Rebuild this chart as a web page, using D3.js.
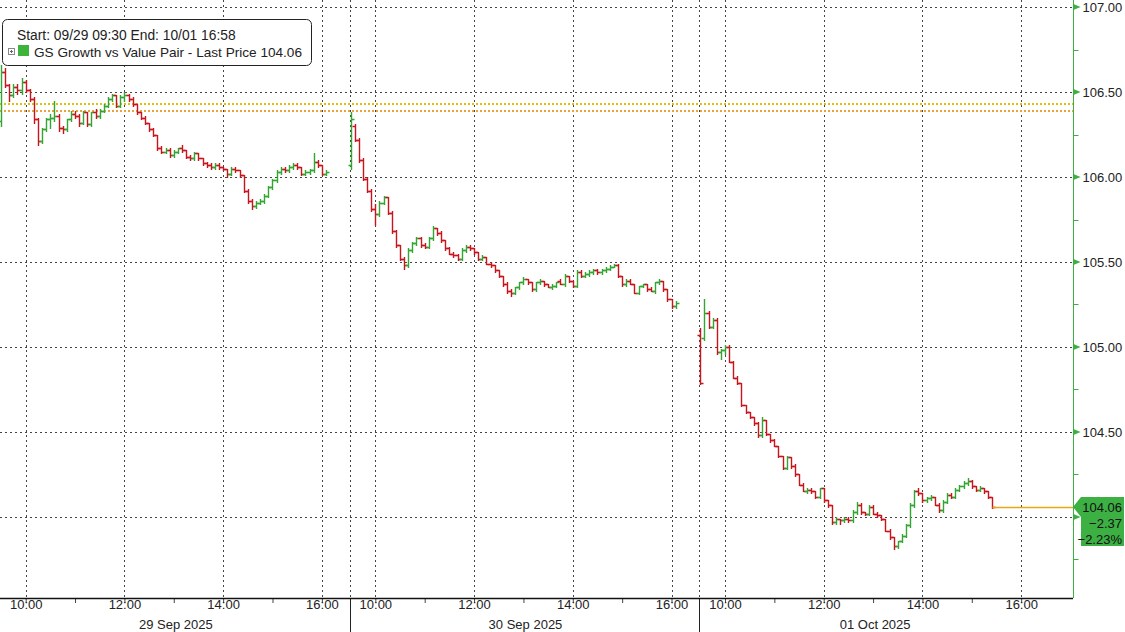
<!DOCTYPE html>
<html>
<head>
<meta charset="utf-8">
<script src="https://cdn.jsdelivr.net/npm/d3@7"></script>
<style>
  body { margin: 0; background: #fff; }
  svg text { font-family: "Liberation Sans", Arial, sans-serif; }
</style>
</head>
<body>
<svg width="1125" height="632"></svg>
<script>
// ---- data ----
var dayLabels  = ["29 Sep 2025", "30 Sep 2025", "01 Oct 2025"];
var hourTicks  = [10, 11, 12, 13, 14, 15, 16];
var priceTicks = [104.00, 104.50, 105.00, 105.50, 106.00, 106.50, 107.00];
var minorTicks = [103.75, 104.25, 104.75, 105.25, 105.75, 106.25, 106.75];
var refLines   = [106.43, 106.39];          // prev close, open (dotted yellow)
var legendTitle = "Start: 09/29 09:30 End: 10/01 16:58";
var seriesName  = "GS Growth vs Value Pair - Last Price 104.06";
var lastPrice = 104.06, netChange = -2.37, pctChange = -2.23;

// 5 minute bars, [open, high, low, close]
var day1 = [
  [106.33,106.66,106.30,106.62],[106.62,106.64,106.53,106.54],[106.54,106.55,106.45,106.48],[106.48,106.55,106.47,106.53],
  [106.53,106.55,106.49,106.51],[106.51,106.58,106.49,106.56],[106.56,106.57,106.50,106.51],[106.51,106.52,106.45,106.46],
  [106.46,106.47,106.32,106.34],[106.34,106.35,106.19,106.21],[106.21,106.29,106.20,106.28],[106.28,106.35,106.27,106.34],
  [106.34,106.37,106.29,106.35],[106.35,106.45,106.33,106.36],[106.36,106.37,106.27,106.29],[106.29,106.30,106.26,106.28],
  [106.28,106.34,106.27,106.34],[106.34,106.39,106.33,106.37],[106.37,106.39,106.35,106.36],[106.36,106.37,106.30,106.32],
  [106.32,106.39,106.31,106.38],[106.38,106.38,106.30,106.31],[106.31,106.38,106.30,106.38],[106.38,106.40,106.35,106.36],
  [106.36,106.40,106.35,106.39],[106.39,106.43,106.38,106.42],[106.42,106.47,106.41,106.46],[106.46,106.49,106.45,106.48],
  [106.48,106.48,106.41,106.42],[106.42,106.48,106.41,106.47],[106.47,106.50,106.45,106.48],[106.48,106.49,106.45,106.46],
  [106.46,106.47,106.42,106.43],[106.43,106.43,106.37,106.38],[106.38,106.38,106.34,106.35],[106.35,106.36,106.31,106.32],
  [106.32,106.32,106.27,106.28],[106.28,106.29,106.24,106.25],[106.25,106.25,106.16,106.17],[106.17,106.18,106.14,106.15],
  [106.15,106.17,106.14,106.16],[106.16,106.17,106.12,106.13],[106.13,106.16,106.12,106.15],[106.15,106.17,106.14,106.17],
  [106.17,106.19,106.15,106.16],[106.16,106.16,106.11,106.12],[106.12,106.13,106.10,106.11],[106.11,106.15,106.10,106.14],
  [106.14,106.14,106.10,106.11],[106.11,106.11,106.07,106.08],[106.08,106.09,106.06,106.07],[106.07,106.08,106.05,106.06],
  [106.06,106.08,106.05,106.07],[106.07,106.08,106.05,106.06],[106.06,106.06,106.04,106.05],[106.05,106.05,106.00,106.02],
  [106.02,106.06,106.01,106.05],[106.05,106.06,106.03,106.04],[106.04,106.04,106.00,106.01],[106.01,106.01,105.91,105.92],
  [105.92,105.93,105.85,105.86],[105.86,105.87,105.81,105.83],[105.83,105.86,105.82,105.85],[105.85,105.87,105.84,105.86],
  [105.86,105.90,105.85,105.89],[105.89,105.95,105.88,105.94],[105.94,105.99,105.93,105.98],[105.98,106.04,105.97,106.03],
  [106.03,106.06,106.02,106.05],[106.05,106.06,106.03,106.04],[106.04,106.07,106.03,106.06],[106.06,106.08,106.05,106.07],
  [106.07,106.08,106.05,106.06],[106.06,106.06,106.01,106.02],[106.02,106.04,106.01,106.03],[106.03,106.05,106.02,106.04],
  [106.04,106.14,106.03,106.09],[106.09,106.10,106.06,106.07],[106.07,106.07,106.01,106.02],[106.02,106.04,106.01,106.03]
];
var day2 = [
  [106.07,106.38,106.05,106.34],[106.30,106.31,106.21,106.22],[106.22,106.23,106.09,106.10],[106.10,106.11,105.98,105.99],
  [105.99,106.00,105.91,105.92],[105.92,105.93,105.80,105.81],[105.81,105.84,105.72,105.78],[105.78,105.86,105.77,105.85],
  [105.85,105.89,105.84,105.88],[105.88,105.88,105.78,105.79],[105.79,105.80,105.67,105.68],[105.68,105.69,105.59,105.60],
  [105.60,105.60,105.51,105.52],[105.52,105.53,105.46,105.48],[105.48,105.58,105.47,105.57],[105.57,105.62,105.56,105.61],
  [105.61,105.65,105.60,105.64],[105.64,105.65,105.59,105.60],[105.60,105.61,105.58,105.59],[105.59,105.65,105.58,105.64],
  [105.64,105.71,105.63,105.70],[105.70,105.70,105.66,105.67],[105.67,105.68,105.62,105.63],[105.63,105.63,105.57,105.58],
  [105.58,105.59,105.55,105.55],[105.55,105.56,105.53,105.54],[105.54,105.55,105.51,105.52],[105.52,105.58,105.51,105.57],
  [105.57,105.60,105.56,105.59],[105.59,105.60,105.57,105.58],[105.58,105.58,105.55,105.56],[105.56,105.56,105.51,105.52],
  [105.52,105.54,105.51,105.53],[105.53,105.53,105.49,105.49],[105.49,105.50,105.47,105.48],[105.48,105.48,105.44,105.45],
  [105.45,105.45,105.41,105.42],[105.42,105.42,105.36,105.37],[105.37,105.38,105.32,105.33],[105.33,105.34,105.30,105.32],
  [105.32,105.35,105.31,105.35],[105.35,105.38,105.34,105.38],[105.38,105.41,105.37,105.40],[105.40,105.40,105.37,105.38],
  [105.38,105.38,105.33,105.34],[105.34,105.38,105.33,105.38],[105.38,105.40,105.37,105.39],[105.39,105.39,105.36,105.37],
  [105.37,105.37,105.35,105.35],[105.35,105.37,105.34,105.36],[105.36,105.38,105.35,105.38],[105.39,105.40,105.37,105.37],
  [105.37,105.43,105.36,105.42],[105.42,105.42,105.38,105.39],[105.39,105.39,105.35,105.36],[105.36,105.45,105.35,105.44],
  [105.44,105.45,105.41,105.42],[105.42,105.44,105.41,105.43],[105.43,105.45,105.42,105.44],[105.44,105.46,105.43,105.45],
  [105.45,105.46,105.43,105.44],[105.44,105.46,105.43,105.45],[105.45,105.47,105.44,105.46],[105.46,105.48,105.45,105.47],
  [105.47,105.49,105.47,105.48],[105.48,105.49,105.41,105.42],[105.42,105.42,105.36,105.37],[105.37,105.40,105.36,105.39],
  [105.39,105.40,105.37,105.37],[105.37,105.37,105.32,105.32],[105.32,105.36,105.31,105.36],[105.36,105.37,105.35,105.37],
  [105.37,105.37,105.33,105.34],[105.34,105.35,105.33,105.33],[105.33,105.38,105.32,105.38],[105.38,105.40,105.37,105.39],
  [105.39,105.39,105.33,105.34],[105.34,105.34,105.27,105.28],[105.28,105.28,105.23,105.24],[105.24,105.27,105.23,105.26]
];
var day3 = [
  [105.07,105.11,104.78,104.79],[105.05,105.28,105.04,105.20],[105.20,105.21,105.11,105.12],[105.12,105.17,105.11,105.16],
  [105.16,105.17,104.96,104.97],[104.97,104.99,104.93,104.98],[104.98,105.01,104.96,105.00],[105.00,105.01,104.91,104.91],
  [104.91,104.92,104.82,104.82],[104.82,104.83,104.78,104.79],[104.79,104.79,104.65,104.66],[104.66,104.66,104.61,104.62],
  [104.62,104.62,104.58,104.59],[104.59,104.59,104.54,104.55],[104.55,104.56,104.47,104.48],[104.48,104.59,104.47,104.57],
  [104.57,104.57,104.48,104.49],[104.49,104.49,104.44,104.45],[104.45,104.46,104.42,104.42],[104.42,104.42,104.35,104.36],
  [104.36,104.36,104.28,104.29],[104.29,104.36,104.28,104.35],[104.35,104.35,104.29,104.30],[104.30,104.31,104.24,104.25],
  [104.25,104.25,104.19,104.19],[104.19,104.20,104.15,104.15],[104.15,104.17,104.14,104.16],[104.16,104.17,104.14,104.15],
  [104.15,104.15,104.11,104.12],[104.12,104.17,104.11,104.17],[104.17,104.17,104.09,104.10],[104.10,104.10,104.06,104.07],
  [104.07,104.07,103.96,103.97],[103.97,104.00,103.96,103.99],[103.99,103.99,103.96,103.98],[103.98,104.00,103.97,103.99],
  [103.99,104.00,103.97,103.98],[103.98,104.04,103.97,104.03],[104.03,104.09,104.02,104.07],[104.07,104.08,104.02,104.03],
  [104.03,104.03,104.01,104.02],[104.02,104.07,104.01,104.06],[104.06,104.07,104.02,104.02],[104.02,104.03,104.00,104.01],
  [104.01,104.01,103.98,103.99],[103.99,103.99,103.92,103.92],[103.92,103.93,103.87,103.88],[103.88,103.88,103.81,103.83],
  [103.83,103.86,103.82,103.86],[103.86,103.90,103.85,103.89],[103.89,103.96,103.88,103.95],[103.95,104.08,103.94,104.07],
  [104.07,104.16,104.06,104.15],[104.15,104.17,104.13,104.14],[104.14,104.14,104.09,104.10],[104.10,104.12,104.09,104.11],
  [104.11,104.13,104.10,104.12],[104.12,104.12,104.07,104.07],[104.07,104.08,104.03,104.04],[104.04,104.10,104.03,104.09],
  [104.09,104.14,104.08,104.13],[104.13,104.14,104.11,104.12],[104.12,104.17,104.11,104.16],[104.16,104.19,104.15,104.18],
  [104.18,104.21,104.17,104.20],[104.20,104.23,104.19,104.21],[104.21,104.22,104.17,104.18],[104.18,104.18,104.15,104.16],
  [104.16,104.18,104.15,104.17],[104.17,104.17,104.14,104.15],[104.15,104.15,104.11,104.12],[104.12,104.12,104.05,104.06]
];

// ---- layout ----
var W = 1125, H = 632,
    plotRight = 1073, plotBottom = 598,
    dayLen = 425,            // minutes 09:30 -> 16:35 per session slot
    barMin = 5;

var green = "#33a533", red = "#c8141c", axisGreen = "#3cb043";

var svg = d3.select("svg");

var x = d3.scaleLinear().domain([0, 1303]).range([1, plotRight]);
var y = d3.scaleLinear().domain([103.5235, 107.0412]).range([plotBottom, 0]);

function px(v) { return Math.round(v) + 0.5; }

var days = [day1, day2, day3];
var bars = [];
days.forEach(function(d, di) {
  d.forEach(function(b, i) {
    bars.push({t: di * dayLen + i * barMin, o: b[0], h: b[1], l: b[2], c: b[3]});
  });
});

// ---- grid ----
var grid = svg.append("g").attr("class", "grid");

grid.selectAll(".hgrid")
  .data(priceTicks)
  .enter().append("line")
    .attr("x1", 0).attr("x2", plotRight)
    .attr("y1", function(d) { return px(y(d)); })
    .attr("y2", function(d) { return px(y(d)); })
    .attr("stroke", "#444").attr("stroke-dasharray", "2,3");

var vgrid = [];
dayLabels.forEach(function(d, di) {
  [10, 12, 14, 16].forEach(function(h) { vgrid.push(di * dayLen + (h - 9.5) * 60); });
});
grid.selectAll(".vgrid")
  .data(vgrid)
  .enter().append("line")
    .attr("x1", function(d) { return px(x(d)); })
    .attr("x2", function(d) { return px(x(d)); })
    .attr("y1", 0).attr("y2", plotBottom)
    .attr("stroke", "#444").attr("stroke-dasharray", "2,3");

// day separators
var seps = [1, 2].map(function(d) { return d * dayLen; });
grid.selectAll(".sep")
  .data(seps)
  .enter().append("line")
    .attr("x1", function(d) { return px(x(d) - 1); })
    .attr("x2", function(d) { return px(x(d) - 1); })
    .attr("y1", 0).attr("y2", plotBottom)
    .attr("stroke", "#444").attr("stroke-dasharray", "2,3");
svg.selectAll(".sepLow")
  .data(seps)
  .enter().append("line")
    .attr("x1", function(d) { return px(x(d) - 1); })
    .attr("x2", function(d) { return px(x(d) - 1); })
    .attr("y1", plotBottom).attr("y2", H)
    .attr("stroke", "#222");

// reference lines
var refColors = ["#dcc20a", "#eba23a"];
svg.selectAll(".ref")
  .data(refLines)
  .enter().append("line")
    .attr("x1", 0).attr("x2", plotRight)
    .attr("y1", function(d) { return Math.round(y(d)); })
    .attr("y2", function(d) { return Math.round(y(d)); })
    .attr("stroke", function(d, i) { return refColors[i]; })
    .attr("stroke-width", 2)
    .attr("stroke-dasharray", "2,2");

// ---- bars ----
svg.append("g").selectAll("path")
  .data(bars)
  .enter().append("path")
    .attr("fill", "none")
    .attr("stroke", function(d) { return d.c >= d.o ? green : red; })
    .attr("stroke-width", 1.4)
    .attr("d", function(d) {
      var cx = px(x(d.t));
      return "M" + cx + "," + Math.round(y(d.h)) + "V" + (Math.round(y(d.l)) + 1) +
             "M" + (cx - 3) + "," + px(y(d.o)) + "H" + cx +
             "M" + cx + "," + px(y(d.c)) + "H" + (cx + 3);
    });

// last price line
var lastBar = bars[bars.length - 1];
svg.append("line")
  .attr("x1", px(x(lastBar.t))).attr("x2", plotRight)
  .attr("y1", px(y(lastPrice))).attr("y2", px(y(lastPrice)))
  .attr("stroke", "#e6a817").attr("stroke-width", 1.5);

// ---- x axis ----
var hourMins = [];
dayLabels.forEach(function(d, di) {
  hourTicks.forEach(function(h) { hourMins.push(di * dayLen + (h - 9.5) * 60); });
});
var xAxis = svg.append("g")
  .attr("transform", "translate(0," + plotBottom + ")")
  .call(d3.axisBottom(x)
    .tickValues(hourMins)
    .tickSize(5)
    .tickSizeOuter(0)
    .tickFormat(function(d) {
      var h = Math.round(((d % dayLen) / 60) + 9.5);
      return h % 2 === 0 ? h + ":00" : "";
    }));
xAxis.select(".domain").remove();
xAxis.selectAll(".tick line").attr("stroke", "#444");
xAxis.selectAll(".tick text")
  .attr("font-size", 13).attr("fill", "#222")
  .attr("font-family", "Liberation Sans, Arial, sans-serif")
  .attr("dy", "0.55em").attr("y", 4);
svg.append("line")
  .attr("x1", 0).attr("x2", plotRight)
  .attr("y1", plotBottom + 0.5).attr("y2", plotBottom + 0.5)
  .attr("stroke", "#111").attr("stroke-width", 1.5);

svg.selectAll(".dayLabel")
  .data(dayLabels)
  .enter().append("text")
    .attr("x", function(d, i) { return x(i * dayLen + dayLen / 2); })
    .attr("y", 629)
    .attr("text-anchor", "middle")
    .attr("font-size", 13).attr("fill", "#222")
    .text(function(d) { return d; });

// ---- right axis ----
// the 104.00 label sits under the last price box, so it is not printed
var yAxis = svg.append("g")
  .attr("transform", "translate(" + (plotRight + 0.5) + ",0)")
  .call(d3.axisRight(y)
    .tickValues(priceTicks.filter(function(d) { return Math.abs(d - lastPrice) > 0.12; }))
    .tickSize(0)
    .tickSizeOuter(0)
    .tickPadding(9)
    .tickFormat(d3.format(".2f")));
yAxis.select(".domain").attr("stroke", axisGreen).attr("d", "M0,0V" + plotBottom);
yAxis.selectAll(".tick text")
  .attr("font-size", 13).attr("fill", "#222")
  .attr("font-family", "Liberation Sans, Arial, sans-serif");

yAxis.selectAll(".tri")
  .data(priceTicks)
  .enter().append("path")
    .attr("fill", axisGreen)
    .attr("d", function(d) {
      var ty = y(d);
      return "M0," + (ty - 3) + "L7," + ty + "L0," + (ty + 3) + "Z";
    });
yAxis.selectAll(".minor")
  .data(minorTicks)
  .enter().append("line")
    .attr("x1", 0).attr("x2", 5)
    .attr("y1", function(d) { return px(y(d)); })
    .attr("y2", function(d) { return px(y(d)); })
    .attr("stroke", axisGreen);

// last price box
var ly = Math.round(y(lastPrice));
svg.append("path")
  .attr("fill", axisGreen)
  .attr("d", "M" + plotRight + "," + ly + "L" + (plotRight + 8) + "," + (ly - 10) +
             "H" + (W - 1) + "V" + (ly + 39) + "H" + (plotRight + 8) + "V" + (ly + 10) + "Z");
var boxText = [d3.format(".2f")(lastPrice), d3.format(".2f")(netChange), d3.format(".2f")(pctChange) + "%"];
svg.selectAll(".boxText")
  .data(boxText)
  .enter().append("text")
    .attr("x", W - 3)
    .attr("y", function(d, i) { return ly + 5 + i * 16; })
    .attr("text-anchor", "end")
    .attr("font-size", 13).attr("fill", "#111")
    .text(function(d) { return d; });

// ---- legend ----
var lg = svg.append("g");
lg.append("rect")
  .attr("x", 2.5).attr("y", 19.5).attr("width", 309).attr("height", 46)
  .attr("rx", 5).attr("fill", "#fff").attr("stroke", "#222");
lg.append("text")
  .attr("x", 17).attr("y", 40)
  .attr("font-size", 13.8).attr("fill", "#222")
  .text(legendTitle);
lg.append("rect")
  .attr("x", 8.5).attr("y", 48.5).attr("width", 6).attr("height", 6)
  .attr("fill", "none").attr("stroke", "#888");
lg.append("path")
  .attr("d", "M10,51.5H13M11.5,50V53")
  .attr("stroke", "#666");
lg.append("rect")
  .attr("x", 18).attr("y", 45).attr("width", 11).attr("height", 11)
  .attr("fill", "#3cb43c");
lg.append("text")
  .attr("x", 34).attr("y", 57)
  .attr("font-size", 13.6).attr("fill", "#222")
  .text(seriesName);
</script>
</body>
</html>
